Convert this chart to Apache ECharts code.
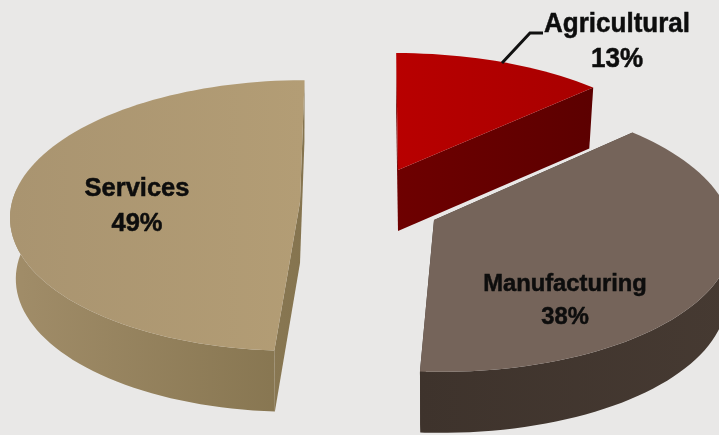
<!DOCTYPE html>
<html>
<head>
<meta charset="utf-8">
<style>html,body{margin:0;padding:0;background:#e9e8e7}#c{width:719px;height:435px}</style>
<script src="https://cdn.jsdelivr.net/npm/echarts@6/dist/echarts.min.js"></script>
</head>
<body>
<div id="c"></div>
<script>
const categories = ['Agricultural', 'Manufacturing', 'Services'];
const values = [13, 38, 49];
const topColors = [['#b80000', '#a80000'], ['#75645a', '#75645a'], ['#a99470', '#b39d75']];
const wallColors = [['#6e0000', '#5c0000'], ['#3e332c', '#463a32'], ['#a18d69', '#85744f']];
const apexX = [398, 434, 300];
const apexY = [170, 220, 202];
const leans = [-2, -6, 5];
const scaleXs = [1, 1.03, 1];
const scaleYs = [0.96, 1.02, 1];
const labelX = [617, 565, 137];
const labelY = [42, 300.5, 206];
const labelSizes = [28, 24, 26];
const labelStretch = [0.93, 0.99, 0.98];
const labelLeading = [35, 33, 35];
const RX = 288, RY = 134, PERSP = 0.1, DEPTH = 61, BOTTOM_SHRINK = 0.98;
const total = values.reduce((a, b) => a + b, 0);

function project(i, deg) {
  const t = deg * Math.PI / 180, u = Math.sin(t), v = Math.cos(t), f = 1 / (1 + PERSP * v);
  return [apexX[i] + (RX * scaleXs[i] * u + leans[i] * v) * f, apexY[i] - RY * scaleYs[i] * v * f];
}
function grad(c, x0, x1) {
  return { type: 'linear', x: x0, y: 0, x2: x1, y2: 0, global: true,
    colorStops: [{ offset: 0, color: c[0] }, { offset: 1, color: c[1] }] };
}
function renderItem(params, api) {
  const i = params.dataIndex;
  let start = 0;
  for (let k = 0; k < i; k++) start += values[k] / total * 360;
  const end = start + api.value(0) / total * 360;
  const angles = [];
  for (let d = start; d < end; d += 2) angles.push(d);
  angles.push(end);
  const arc = angles.map(d => project(i, d));
  const front = angles.filter(d => Math.cos(d * Math.PI / 180) <= 0.12).map(d => project(i, d));
  const apex = [apexX[i], apexY[i]];
  const xs = arc.map(p => p[0]).concat(apex[0]);
  const x0 = Math.min(...xs), x1 = Math.max(...xs);
  const down = p => [apex[0] + (p[0] - apex[0]) * BOTTOM_SHRINK, p[1] + DEPTH];
  const wallFill = grad(wallColors[i], x0, x1);
  const wall = pts => ({ type: 'polygon', silent: true,
    shape: { points: pts.concat(pts.map(down).reverse()) },
    style: { fill: wallFill } });
  const children = [];
  children.push(wall([arc[0], apex]));
  children.push(wall([apex, arc[arc.length - 1]]));
  if (i !== 0 && front.length > 1) children.push(wall(front));
  children.push({ type: 'polygon', silent: true,
    shape: { points: [apex].concat(arc) },
    style: { fill: grad(topColors[i], x0, x1) } });
  if (i === 0) {
    children.push({ type: 'polyline', silent: true,
      shape: { points: [[502, 63], [530, 33], [543, 33]] },
      style: { stroke: '#111', lineWidth: 3, fill: null } });
  }
  children.push({ type: 'text', silent: true, x: labelX[i], y: labelY[i], scaleX: labelStretch[i],
    style: { text: categories[i] + '\n' + api.value(0) + '%',
      font: 'bold ' + labelSizes[i] + 'px "Liberation Sans"', fill: '#0d0d0d',
      stroke: '#0d0d0d', lineWidth: 0.5,
      align: 'center', verticalAlign: 'middle', lineHeight: labelLeading[i] } });
  return { type: 'group', children };
}
const chart = echarts.init(document.getElementById('c'), null, { renderer: 'canvas' });
chart.setOption({
  animation: false,
  backgroundColor: '#e9e8e7',
  series: [{
    type: 'custom',
    coordinateSystem: 'none',
    renderItem,
    data: values.map((v, i) => ({ name: categories[i], value: [v] }))
  }]
});
</script>
</body>
</html>
